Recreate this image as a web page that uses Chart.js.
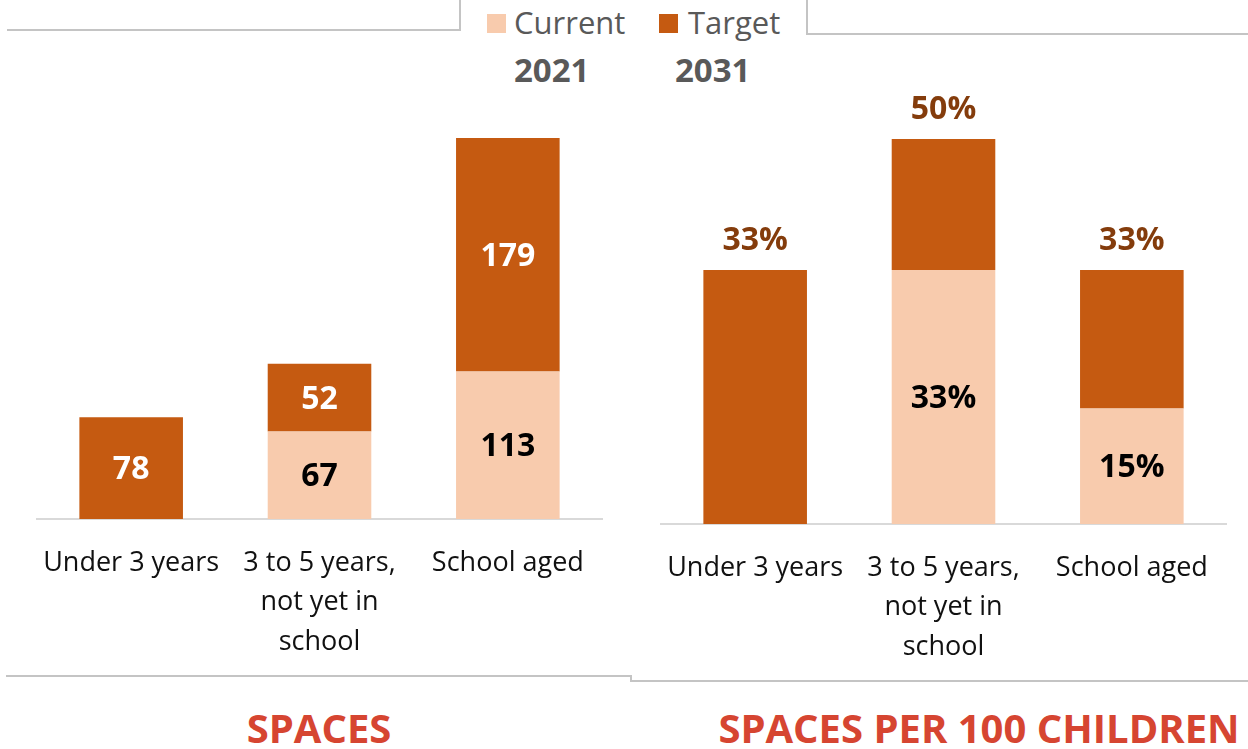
<!DOCTYPE html>
<html>
<head>
<meta charset="utf-8">
<script src="https://cdn.jsdelivr.net/npm/chart.js@4/dist/chart.umd.min.js"></script>
<style>
  html, body { margin: 0; padding: 0; background: #fff; }
  body { width: 1248px; height: 749px; position: relative; overflow: hidden;
         font-family: "Open Sans", sans-serif; }
  .box { position: absolute; }
  .ln { position: absolute; background: #c4c4c4; }
  .legend { position: absolute; top: 2px; font-size: 31px; color: #595959; line-height: 40px; }
  .sw { position: absolute; width: 19px; height: 19px; top: 14px; }
  .year { position: absolute; top: 49px; font-size: 33px; font-weight: bold; color: #595959; line-height: 42px; }
  .title { position: absolute; top: 704px; font-size: 40px; font-weight: bold; color: #d64531;
           line-height: 48px; text-align: center; white-space: nowrap; }
</style>
</head>
<body>
<!-- frame lines -->
<div class="ln" style="left:7px; top:29px; width:453px; height:2px;"></div>
<div class="ln" style="left:459px; top:0; width:2px; height:31px;"></div>
<div class="ln" style="left:806px; top:0; width:2px; height:35px;"></div>
<div class="ln" style="left:806px; top:33px; width:442px; height:2px;"></div>
<div class="ln" style="left:6px; top:675px; width:625px; height:2px;"></div>
<div class="ln" style="left:630px; top:675px; width:2px; height:7px;"></div>
<div class="ln" style="left:630px; top:680px; width:618px; height:2px;"></div>

<!-- legend -->
<div class="sw" style="left:487px; background:#f8cbad;"></div>
<div class="legend" style="left:514px;">Current</div>
<div class="sw" style="left:659px; background:#c55a11;"></div>
<div class="legend" style="left:688px;">Target</div>
<div class="year" style="left:514px;">2021</div>
<div class="year" style="left:675px;">2031</div>

<div class="box" style="left:0; top:0; width:640px; height:675px;"><canvas id="spacesChart"></canvas></div>
<div class="box" style="left:630px; top:0; width:618px; height:680px;"><canvas id="per100Chart"></canvas></div>

<div class="title" style="left:119px; width:400px;">SPACES</div>
<div class="title" style="left:679px; width:600px;">SPACES PER 100 CHILDREN</div>

<script>
const categories = [['Under 3 years'], ['3 to 5 years,', 'not yet in', 'school'], ['School aged']];
const spacesCurrent = [0, 67, 113];
const spacesTarget = [78, 52, 179];
const per100Current = [0, 33, 15];
const per100Target = [33, 17, 18];

const currentColor = '#f8cbad';
const targetColor = '#c55a11';
const fontFamily = '"Open Sans", sans-serif';

// draws values inside the segments and (optionally) the stack total above
const barLabels = {
  id: 'barLabels',
  afterDatasetsDraw(chart, args, opts) {
    const ctx = chart.ctx;
    ctx.save();
    ctx.font = 'bold 32px ' + fontFamily;
    ctx.textAlign = 'center';
    ctx.textBaseline = 'middle';
    chart.data.datasets.forEach((ds, di) => {
      if (!opts.inside[di]) return;
      chart.getDatasetMeta(di).data.forEach((el, i) => {
        const v = ds.data[i];
        if (!v) return;
        ctx.fillStyle = opts.insideColors[di];
        ctx.fillText(v + opts.suffix, el.x, (el.y + el.base) / 2 + 2);
      });
    });
    if (opts.totals) {
      const top = chart.getDatasetMeta(chart.data.datasets.length - 1).data;
      top.forEach((el, i) => {
        let sum = 0;
        chart.data.datasets.forEach(ds => { sum += ds.data[i]; });
        ctx.fillStyle = '#843c0c';
        ctx.fillText(sum + opts.suffix, el.x, el.y - 29);
      });
    }
    ctx.restore();
  }
};

function makeChart(id, current, target, yMax, pad, labelOpts) {
  return new Chart(document.getElementById(id), {
    type: 'bar',
    data: {
      labels: categories,
      datasets: [
        { label: 'Current', data: current, backgroundColor: currentColor, borderWidth: 0 },
        { label: 'Target', data: target, backgroundColor: targetColor, borderWidth: 0 }
      ]
    },
    options: {
      responsive: true,
      maintainAspectRatio: false,
      animation: false,
      categoryPercentage: 1,
      barPercentage: 0.55,
      layout: { padding: pad },
      plugins: {
        legend: { display: false },
        tooltip: { enabled: false },
        barLabels: labelOpts
      },
      scales: {
        x: {
          stacked: true,
          grid: { display: false, drawTicks: false },
          border: { display: true, color: '#d9d9d9', width: 2 },
          ticks: {
            color: '#111',
            padding: 25,
            maxRotation: 0,
            autoSkip: false,
            font: { family: fontFamily, size: 27, lineHeight: 1.45 }
          },
          afterFit: s => { s.height = 156; }
        },
        y: {
          stacked: true,
          display: false,
          min: 0,
          max: yMax
        }
      }
    },
    plugins: [barLabels]
  });
}

makeChart('spacesChart', spacesCurrent, spacesTarget, 300,
  { left: 37, right: 38, top: 519 - 300 * 1.305, bottom: 0 },
  { inside: [true, true], insideColors: ['#000', '#fff'], totals: false, suffix: '' });

makeChart('per100Chart', per100Current, per100Target, 50,
  { left: 31, right: 22, top: 524 - 50 * 7.7, bottom: 0 },
  { inside: [true, false], insideColors: ['#000', '#fff'], totals: true, suffix: '%' });
</script>
</body>
</html>
